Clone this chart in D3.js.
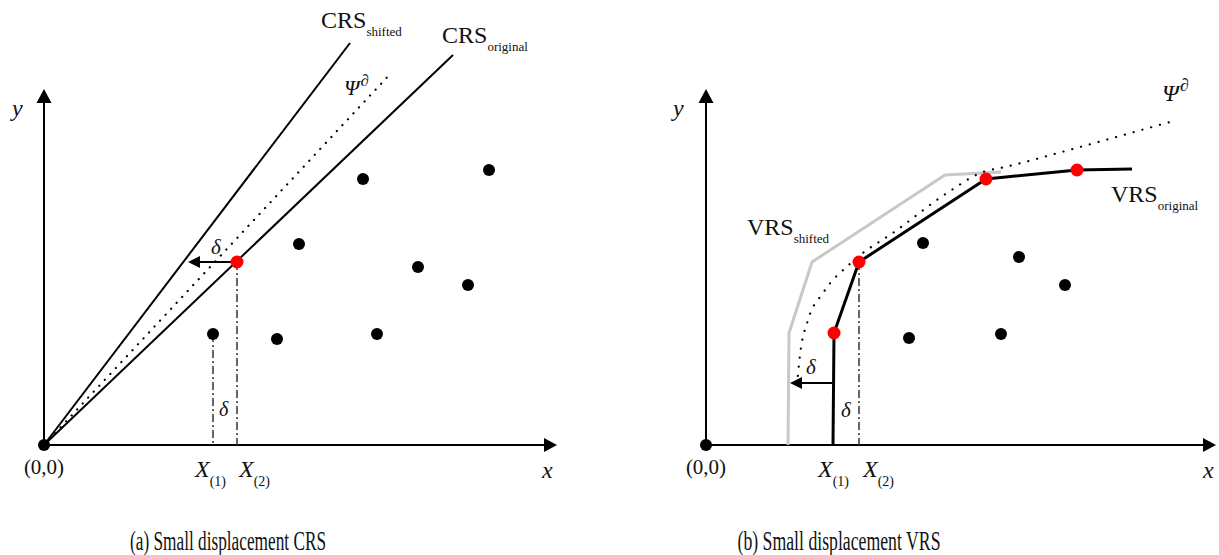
<!DOCTYPE html>
<html>
<head>
<meta charset="utf-8">
<script src="https://cdn.jsdelivr.net/npm/d3@7"></script>
<style>
  body { margin: 0; background: #fff; }
  text { font-family: "Liberation Serif", "Times New Roman", serif; fill: #111; }
</style>
</head>
<body>
<div id="chart"></div>
<script>
// ---- panel (a): CRS ----
const crsPoints = [[3.38, 2.22], [4.66, 2.12], [5.10, 4.02], [6.38, 5.32], [6.66, 2.22], [7.48, 3.56], [8.48, 3.20], [8.90, 5.50]];
const crsEfficient = [[3.86, 3.66]];
const crsOriginal = [[0, 0], [8.18, 7.80]];
const crsShifted = [[0, 0], [6.12, 8.04]];
const crsPsi = [[0, 0], [6.96, 7.46]];
const crsArrow = [[3.86, 3.66], [2.88, 3.66]];
const crsDrops = [[3.38, 2.22], [3.86, 3.66]];   // X(1), X(2)

// ---- panel (b): VRS ----
const vrsPoints = [[4.34, 4.04], [4.06, 2.14], [6.26, 3.76], [5.90, 2.22], [7.18, 3.20]];
const vrsEfficient = [[2.56, 2.24], [3.06, 3.66], [5.60, 5.32], [7.42, 5.50]];
const vrsOriginal = [[2.54, 0], [2.56, 2.24], [3.06, 3.66], [5.60, 5.32], [7.42, 5.50], [8.52, 5.52]];
const vrsShifted = [[1.64, 0], [1.66, 2.24], [2.12, 3.66], [4.78, 5.40], [5.90, 5.46]];
const vrsPsi = [[1.82, 1.20], [1.88, 1.80], [2.04, 2.50], [2.34, 3.04], [2.92, 3.66], [3.82, 4.30], [4.82, 5.04], [5.54, 5.46], [5.98, 5.56], [7.48, 5.96], [9.42, 6.50]];
const vrsArrow = [[2.52, 1.24], [1.68, 1.24]];
const vrsDrops = [[3.06, 3.66]];

const captions = ["(a) Small displacement CRS", "(b) Small displacement VRS"];

const width = 1219, height = 555;

const svg = d3.select("#chart")
  .append("svg")
  .attr("width", width)
  .attr("height", height)
  .style("background", "#fff");

const xLeft = d3.scaleLinear().domain([0, 10]).range([44, 544]);
const xRight = d3.scaleLinear().domain([0, 10]).range([706, 1206]);
const y = d3.scaleLinear().domain([0, 7]).range([445, 95]);

function arrowHead(g, tip, dx, dy, len, half) {
  // triangle with its tip at `tip`, pointing along (dx, dy)
  const bx = tip[0] - dx * len, by = tip[1] - dy * len;
  const px = -dy * half, py = dx * half;
  g.append("path")
    .attr("d", `M${tip[0]},${tip[1]}L${bx + px},${by + py}L${bx - px},${by - py}Z`)
    .attr("fill", "#000");
}

function drawAxes(g, x, xTip) {
  g.append("line")
    .attr("x1", x(0)).attr("y1", y(0)).attr("x2", x(0)).attr("y2", y(7.12) + 10)
    .attr("stroke", "#000").attr("stroke-width", 2);
  arrowHead(g, [x(0), y(7.12)], 0, -1, 14, 7.5);
  g.append("line")
    .attr("x1", x(0)).attr("y1", y(0)).attr("x2", x(xTip) - 10).attr("y2", y(0))
    .attr("stroke", "#000").attr("stroke-width", 2);
  arrowHead(g, [x(xTip), y(0)], 1, 0, 13, 7);
}

function lineGen(x) {
  return d3.line().x(d => x(d[0])).y(d => y(d[1]));
}

function dashDrops(g, x, data) {
  g.selectAll(null)
    .data(data)
    .enter()
    .append("line")
    .attr("x1", d => x(d[0])).attr("y1", d => y(d[1]))
    .attr("x2", d => x(d[0])).attr("y2", y(0))
    .attr("stroke", "#333")
    .attr("stroke-width", 1.5)
    .attr("stroke-dasharray", "8,3,2,3");
}

function deltaArrow(g, x, data) {
  const a = data[0], b = data[1];
  g.append("line")
    .attr("x1", x(a[0])).attr("y1", y(a[1])).attr("x2", x(b[0]) + 10).attr("y2", y(b[1]))
    .attr("stroke", "#000").attr("stroke-width", 2);
  arrowHead(g, [x(b[0]), y(b[1])], -1, 0, 12, 6);
}

function dots(g, x, data, color, r) {
  g.selectAll(null)
    .data(data)
    .enter()
    .append("circle")
    .attr("cx", d => x(d[0]))
    .attr("cy", d => y(d[1]))
    .attr("r", r)
    .attr("fill", color);
}

function subLabel(g, px, py, main, sub, size, subSize, italic) {
  const t = g.append("text")
    .attr("x", px).attr("y", py)
    .style("font-size", size + "px");
  const m = t.append("tspan").text(main);
  if (italic) m.style("font-style", "italic");
  t.append("tspan")
    .attr("dy", subSize * 0.65)
    .style("font-size", subSize + "px")
    .text(sub);
  return t;
}

function psiLabel(g, px, py, size) {
  const t = g.append("text")
    .attr("x", px).attr("y", py)
    .style("font-size", size + "px")
    .style("font-style", "italic");
  t.append("tspan").text("\u03A8");
  t.append("tspan").attr("dx", 1).attr("dy", -size * 0.4).style("font-size", (size * 0.75) + "px").text("\u2202");
}

function plainText(g, px, py, str, size, italic, anchor) {
  return g.append("text")
    .attr("x", px).attr("y", py)
    .attr("text-anchor", anchor || "start")
    .style("font-size", size + "px")
    .style("font-style", italic ? "italic" : "normal")
    .text(str);
}

// ---------- panel (a) ----------
const left = svg.append("g");
drawAxes(left, xLeft, 10.26);
dashDrops(left, xLeft, crsDrops);

left.append("path").datum(crsOriginal).attr("d", lineGen(xLeft))
  .attr("fill", "none").attr("stroke", "#000").attr("stroke-width", 2);
left.append("path").datum(crsShifted).attr("d", lineGen(xLeft))
  .attr("fill", "none").attr("stroke", "#000").attr("stroke-width", 2);
left.append("path").datum(crsPsi).attr("d", lineGen(xLeft))
  .attr("fill", "none").attr("stroke", "#000").attr("stroke-width", 2.2)
  .attr("stroke-linecap", "round").attr("stroke-dasharray", "0.1,8");

deltaArrow(left, xLeft, crsArrow);
dots(left, xLeft, crsPoints, "#000", 6);
dots(left, xLeft, crsEfficient, "#f00", 6.5);
dots(left, xLeft, [[0, 0]], "#000", 6);

plainText(left, 12, 116, "y", 24, true);
plainText(left, 542, 478, "x", 24, true);
plainText(left, 44, 474, "(0,0)", 21, false, "middle");
subLabel(left, 195, 477, "X", "(1)", 24, 14, true);
subLabel(left, 239, 477, "X", "(2)", 24, 14, true);
plainText(left, 219, 416, "\u03B4", 20, true);
plainText(left, 211, 254, "\u03B4", 21, true);
subLabel(left, 321, 28, "CRS", "shifted", 24, 13, false);
subLabel(left, 442, 43, "CRS", "original", 24, 13, false);
psiLabel(left, 344, 95, 22);

// ---------- panel (b) ----------
const right = svg.append("g");
drawAxes(right, xRight, 10.2);

right.append("path").datum(vrsShifted).attr("d", lineGen(xRight))
  .attr("fill", "none").attr("stroke", "#c8c8c8").attr("stroke-width", 3)
  .attr("stroke-linejoin", "round");
right.append("path").datum(vrsPsi).attr("d", lineGen(xRight).curve(d3.curveMonotoneX))
  .attr("fill", "none").attr("stroke", "#000").attr("stroke-width", 2.2)
  .attr("stroke-linecap", "round").attr("stroke-dasharray", "0.1,9");
dashDrops(right, xRight, vrsDrops);
right.append("path").datum(vrsOriginal).attr("d", lineGen(xRight))
  .attr("fill", "none").attr("stroke", "#000").attr("stroke-width", 3)
  .attr("stroke-linejoin", "round");

deltaArrow(right, xRight, vrsArrow);
dots(right, xRight, vrsPoints, "#000", 6);
dots(right, xRight, vrsEfficient, "#f00", 6.5);
dots(right, xRight, [[0, 0]], "#000", 6);

plainText(right, 673, 116, "y", 24, true);
plainText(right, 1203, 478, "x", 24, true);
plainText(right, 706, 474, "(0,0)", 21, false, "middle");
subLabel(right, 818, 477, "X", "(1)", 24, 14, true);
subLabel(right, 863, 477, "X", "(2)", 24, 14, true);
plainText(right, 806, 374, "\u03B4", 21, true);
plainText(right, 841, 417, "\u03B4", 21, true);
subLabel(right, 747, 235, "VRS", "shifted", 24, 13, false);
subLabel(right, 1111, 202, "VRS", "original", 24, 13, false);
psiLabel(right, 1162, 101, 24);

// ---------- captions ----------
svg.selectAll(".caption")
  .data(captions)
  .enter()
  .append("text")
  .attr("class", "caption")
  .attr("x", (d, i) => i === 0 ? 228 : 839)
  .attr("y", 550)
  .attr("text-anchor", "middle")
  .attr("textLength", (d, i) => i === 0 ? 196 : 203)
  .attr("lengthAdjust", "spacingAndGlyphs")
  .style("font-size", "27px")
  .text(d => d);
</script>
</body>
</html>
